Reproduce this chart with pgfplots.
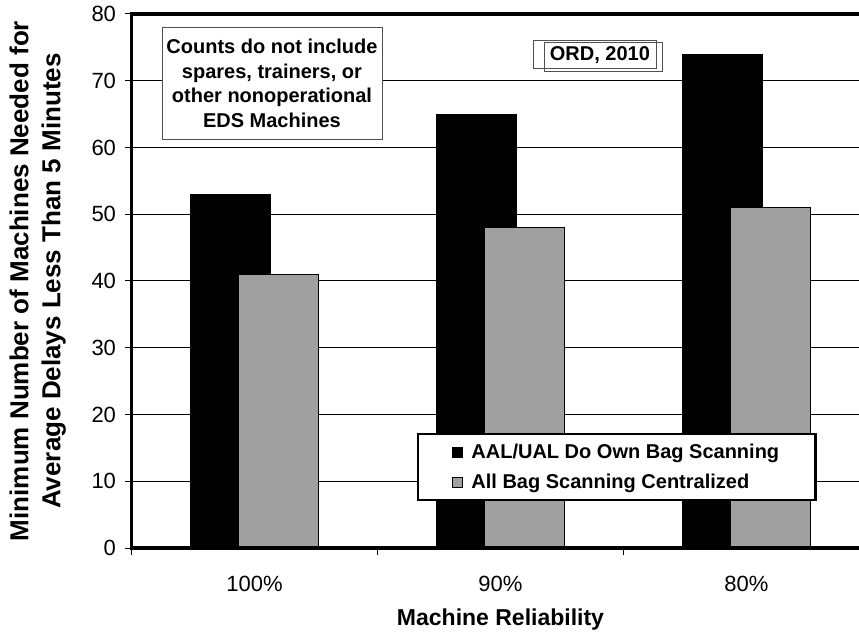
\documentclass[border=0pt]{standalone}
\usepackage{pgfplots}
\pgfplotsset{compat=1.18}
\usepackage{fontspec}
\setmainfont{Liberation Sans}
\definecolor{bargray}{HTML}{A0A0A0}
\definecolor{boxgray}{HTML}{505050}
\pgfplotsset{mylegend/.style={legend image code/.code={\draw[##1, line width=0.8bp] (0bp,-5bp) rectangle (10bp,5bp); \path[draw=none, fill=none] (0bp,0bp) -- (17bp,0bp);}}}
\begin{document}
\begin{tikzpicture}
\begin{axis}[
  name=ax,
  at={(0,0)}, anchor=south west,
  x=246bp, y=6.675bp,
  xmin=-0.5, xmax=2.5, ymin=0, ymax=80,
  axis line style={line width=3.5bp, black},
  ytick={0,10,...,80},
  ymajorgrids, major grid style={line width=1bp, black},
  xtick={0,1,2}, xticklabels={100\%,90\%,80\%},
  major x tick style={draw=none},
  minor xtick={-0.5,0.5,1.5,2.5},
  minor tick length=7bp,
  major tick length=6bp,
  minor x tick style={black, line width=1bp},
  major y tick style={black, line width=1bp},
  tick align=outside, tick pos=left,
  /pgf/number format/assume math mode=true,
  ticklabel style={font=\fontsize{22bp}{26bp}\selectfont},
  xticklabel style={yshift=-19bp},
  yticklabel style={xshift=-6bp},
  xlabel={Machine Reliability},
  xlabel style={font=\fontsize{23bp}{27bp}\selectfont\bfseries, at={(axis description cs:0.5,-0.134)}, anchor=center},
  ylabel={Minimum Number of Machines Needed for\\Average Delays Less Than 5 Minutes},
  ylabel style={font=\fontsize{26bp}{32bp}\selectfont\bfseries, align=center, at={(axis description cs:-0.127,0.5)}, anchor=center},
  legend style={name=leg, at={(axis description cs:0.388,0.2135)}, anchor=north west, draw=black,
    font=\fontsize{20bp}{24bp}\selectfont\bfseries, inner xsep=34bp, inner ysep=8bp,
    row sep=10bp, cells={anchor=west}},
]
\addplot[ybar, mylegend, bar width=80bp, bar shift=-24bp, fill=black, draw=black, line width=0.8bp]
  coordinates {(0,53) (1,65) (2,74)};
\addlegendentry{AAL/UAL Do Own Bag Scanning}
\addplot[ybar, mylegend, bar width=80bp, bar shift=24bp, fill=bargray, draw=black, line width=0.8bp]
  coordinates {(0,41) (1,48) (2,51)};
\addlegendentry{All Bag Scanning Centralized}
\node[draw=boxgray, fill=white, line width=0.8bp, align=center,
  font=\fontsize{20bp}{24.5bp}\selectfont\bfseries, inner xsep=3bp, inner ysep=11.5bp, minimum width=220bp]
  at (axis cs:0.071,69.6) {Counts do not include\\spares, trainers, or\\other nonoperational\\EDS Machines};
\node[draw=boxgray, line width=0.8bp, minimum width=123bp, minimum height=28bp, fill=white] at (axis cs:1.382,74.0) {};
\node[draw=boxgray, line width=0.8bp, minimum width=118bp, minimum height=29bp] at (axis cs:1.417,73.6) {};
\node[font=\fontsize{20bp}{24bp}\selectfont\bfseries] at (axis cs:1.404,73.9) {ORD, 2010};
\end{axis}
\draw[line width=3.5bp, black, line cap=rect] (ax.north east) -- (ax.north west) -- (ax.south west) -- (ax.south east);
\draw[line width=2.2bp, black] (leg.south west) rectangle (leg.north east);
\pgfresetboundingbox
\path[use as bounding box] (-131.5bp,-84bp) rectangle (727.5bp,548bp);
\end{tikzpicture}
\end{document}
